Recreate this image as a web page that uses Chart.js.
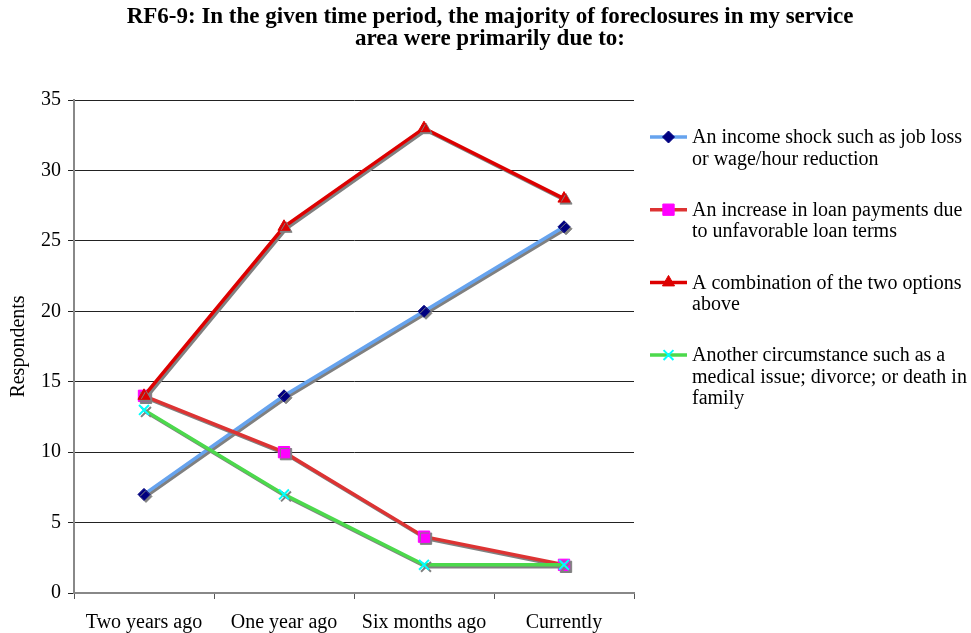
<!DOCTYPE html>
<html><head><meta charset="utf-8">
<script src="https://cdn.jsdelivr.net/npm/chart.js@4/dist/chart.umd.min.js"></script>
<style>html,body{margin:0;padding:0;background:#fff;overflow:hidden}#wrap{position:relative;width:971px;height:633px}</style>
</head><body><div id="wrap"><canvas id="c" width="971" height="633"></canvas></div>
<script>
// ---- data ----
const categories = ['Two years ago', 'One year ago', 'Six months ago', 'Currently'];
const titleLines = ['RF6-9: In the given time period, the majority of foreclosures in my service', 'area were primarily due to:'];
const yAxisTitle = 'Respondents';
const seriesLabels = [
  ['An income shock such as job loss', 'or wage/hour reduction'],
  ['An increase in loan payments due', 'to unfavorable loan terms'],
  ['A combination of the two options', 'above'],
  ['Another circumstance such as a', 'medical issue; divorce; or death in', 'family']
];
const incomeShock = [7, 14, 20, 26];
const loanIncrease = [14, 10, 4, 2];
const combination = [14, 26, 33, 28];
const otherCircumstance = [13, 7, 2, 2];
const yMin = 0, yMax = 35, yStep = 5;

// ---- styles ----
const FONT = '"Liberation Serif", "Times New Roman", serif';
const styles = [
  {line: '#66a3ee', fill: '#000080', border: '#000080', shape: 'rectRot', r: 6, bw: 1},
  {line: '#dd3333', fill: '#ff00ff', border: '#ff00ff', shape: 'rect', r: 8, bw: 1},
  {line: '#dd0000', fill: '#dd0000', border: '#dd0000', shape: 'triangle', r: 7, bw: 1},
  {line: '#4cd94c', fill: '#00ffff', border: '#00ffff', shape: 'crossRot', r: 7, bw: 2}
];
const values = [incomeShock, loanIncrease, combination, otherCircumstance];

const datasets = values.map((v, i) => ({
  label: seriesLabels[i].join(' '),
  data: v,
  borderColor: styles[i].line,
  backgroundColor: styles[i].fill,
  borderWidth: 3.5,
  pointStyle: styles[i].shape,
  pointRadius: styles[i].r,
  pointHoverRadius: styles[i].r,
  pointBackgroundColor: styles[i].fill,
  pointBorderColor: styles[i].border,
  pointBorderWidth: styles[i].bw,
  tension: 0,
  order: values.length - 1 - i
}));

const shadowPlugin = {
  id: 'shadow',
  beforeDatasetDraw(chart) {
    const ctx = chart.ctx;
    ctx.save();
    ctx.shadowColor = 'rgba(128,128,128,1)';
    ctx.shadowOffsetX = 2;
    ctx.shadowOffsetY = 2;
    ctx.shadowBlur = 0;
  },
  afterDatasetDraw(chart) { chart.ctx.restore(); }
};

function drawMarker(ctx, s, x, y) {
  const opts = {pointStyle: s.shape, radius: s.r, borderWidth: s.bw, rotation: 0};
  ctx.save();
  ctx.fillStyle = s.fill;
  ctx.strokeStyle = s.border;
  ctx.lineWidth = s.bw;
  if (Chart.helpers && Chart.helpers.drawPoint) {
    Chart.helpers.drawPoint(ctx, opts, x, y);
  }
  ctx.restore();
}

const decorPlugin = {
  id: 'decor',
  afterDraw(chart) {
    const ctx = chart.ctx;
    ctx.save();
    // title
    ctx.fillStyle = '#000';
    ctx.font = 'bold 23px ' + FONT;
    ctx.textAlign = 'center';
    ctx.textBaseline = 'middle';
    titleLines.forEach((t, i) => ctx.fillText(t, 490, 17 + i * 22));
    // legend
    const lx0 = 650, lx1 = 687, tx = 692;
    const y0 = 137, dy = 72.7;
    seriesLabels.forEach((lines, i) => {
      const y = y0 + i * dy;
      const s = styles[i];
      ctx.save();
      ctx.strokeStyle = s.line;
      ctx.lineWidth = 3.5;
      ctx.beginPath(); ctx.moveTo(lx0, y); ctx.lineTo(lx1, y); ctx.stroke();
      ctx.restore();
      drawMarker(ctx, s, (lx0 + lx1) / 2, y);
      ctx.fillStyle = '#000';
      ctx.font = '20px ' + FONT;
      ctx.textAlign = 'left';
      ctx.textBaseline = 'middle';
      lines.forEach((t, j) => ctx.fillText(t, tx, y + 1 + j * 21.5));
    });
    ctx.restore();
  }
};

new Chart(document.getElementById('c'), {
  type: 'line',
  data: {labels: categories, datasets},
  options: {
    responsive: false,
    animation: false,
    devicePixelRatio: 1,
    layout: {padding: {top: 100, right: 337, left: 0, bottom: 0}},
    plugins: {legend: {display: false}, title: {display: false}, tooltip: {enabled: false}},
    scales: {
      x: {
        type: 'category',
        offset: true,
        grid: {offset: true, drawOnChartArea: false, drawTicks: true, tickLength: 6, color: '#555', lineWidth: 1},
        border: {display: true, color: '#888', width: 2},
        ticks: {font: {family: FONT, size: 20}, color: '#000', padding: 12, maxRotation: 0, autoSkip: false},
        afterFit(scale) { scale.height = 40; }
      },
      y: {
        min: yMin, max: yMax,
        ticks: {stepSize: yStep, font: {family: FONT, size: 20}, color: '#000', padding: 7},
        grid: {color: '#222', lineWidth: 1, tickLength: 6},
        border: {display: true, color: '#888', width: 2},
        title: {display: true, text: yAxisTitle, font: {family: FONT, size: 20}, color: '#000', padding: {top: 7, bottom: 0}},
        afterFit(scale) { scale.width = 74; }
      }
    }
  },
  plugins: [shadowPlugin, decorPlugin]
});
</script>
</body></html>
